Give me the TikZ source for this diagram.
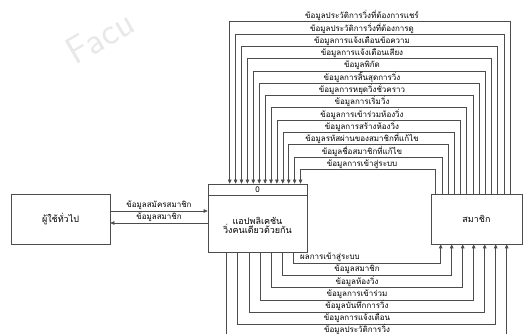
\documentclass[tikz,border=0pt]{standalone}
\usepackage{fontspec}
\newfontfamily\thaifont[Script=Thai]{Loma}
\usetikzlibrary{arrows.meta}
\tikzset{
  box/.style={draw=black!70, line width=0.6pt, inner sep=0pt},
  flow/.style={draw=black!70, line width=0.6pt, -{Triangle[length=4pt,width=3.5pt]}},
  lbl/.style={font=\thaifont\fontsize{8}{9}\selectfont, inner sep=1pt},
  boxlbl/.style={font=\thaifont\fontsize{9}{10}\selectfont},
}
\begin{document}
\begin{tikzpicture}[x=1pt,y=1pt]
\useasboundingbox (0,0) rectangle (527,334);
\node[rotate=30, text=black!9, font=\sffamily\fontsize{38}{38}\selectfont] (mark) at (100,297) {Facu};
% external entities and process
\node[box, boxlbl, minimum width=99, minimum height=50] (user) at (60.5,115) {ผู้ใช้ทั่วไป};
\node[box, boxlbl, minimum width=91, minimum height=50] (member) at (476.5,115) {สมาชิก};
\node[box, minimum width=99, minimum height=68] (app) at (257.5,116) {};
\draw[box] ([yshift=-12]app.north west) -- ([yshift=-12]app.north east);
\node[lbl] (num) at ([yshift=-6]app.north) {0};
\node[boxlbl, align=center, inner sep=0pt] (name) at ([yshift=-7]app.center) {แอปพลิเคชัน\\[-1pt]วิ่งคนเดียวด้วยกัน};
% user <-> app
\draw[flow] ([yshift=8]user.east) -- node[lbl, above] {ข้อมูลสมัครสมาชิก} ([yshift=7]app.west);
\draw[flow] ([yshift=-5]app.west) -- node[lbl, above] {ข้อมูลสมาชิก} ([yshift=-4]user.east);
% member -> app
\foreach \t [count=\i from 0] in {ข้อมูลประวัติการวิ่งที่ต้องการแชร์, ข้อมูลประวัติการวิ่งที่ต้องการดู, ข้อมูลการแจ้งเตือนข้อความ, ข้อมูลการแจ้งเตือนเสียง, ข้อมูลพิกัด, ข้อมูลการสิ้นสุดการวิ่ง, ข้อมูลการหยุดวิ่งชั่วคราว, ข้อมูลการเริ่มวิ่ง, ข้อมูลการเข้าร่วมห้องวิ่ง, ข้อมูลการสร้างห้องวิ่ง, ข้อมูลรหัสผ่านของสมาชิกที่แก้ไข, ข้อมูลชื่อสมาชิกที่แก้ไข, ข้อมูลการเข้าสู่ระบบ} {
  \pgfmathsetmacro\dm{79.3-6.2*\i}
  \pgfmathsetmacro\da{22+5.9*\i}
  \pgfmathsetmacro\h{172-12.3*\i}
  \draw[flow] ([xshift=\dm]member.north west) -- ++(0,\h) -| ([xshift=\da]app.north west);
  \node[lbl, anchor=south] (top\i) at (362,{312-12.3*\i}) {\t};
}
% app -> member
\foreach \t/\lx [count=\i from 0] in {ผลการเข้าสู่ระบบ/330, ข้อมูลสมาชิก/357, ข้อมูลห้องวิ่ง/357, ข้อมูลการเข้าร่วม/357, ข้อมูลบันทึกการวิ่ง/357, ข้อมูลการแจ้งเตือน/357, ข้อมูลประวัติการวิ่ง/357} {
  \pgfmathsetmacro\da{86-11.2*\i}
  \pgfmathsetmacro\dm{10+11*\i}
  \pgfmathsetmacro\h{11+12.2*\i}
  \draw[flow] ([xshift=\da]app.south west) -- ++(0,-\h) -| ([xshift=\dm]member.south west);
  \node[lbl, anchor=south] (bot\i) at (\lx,{71-12.2*\i}) {\t};
}
\end{tikzpicture}
\end{document}
